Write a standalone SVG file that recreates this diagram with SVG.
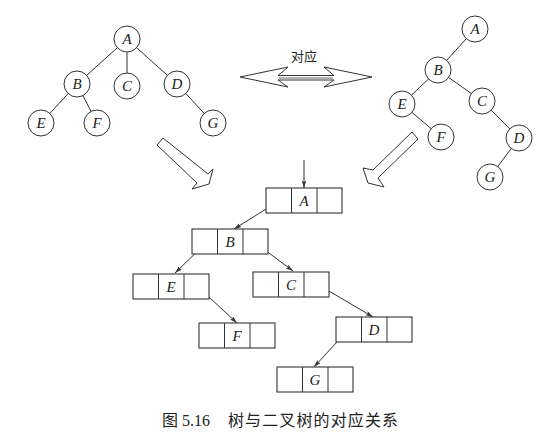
<svg xmlns="http://www.w3.org/2000/svg" width="555" height="438" viewBox="0 0 555 438">
<defs>
<style>
.edge{stroke:#333;stroke-width:1;fill:none}
.node circle{fill:#fff;stroke:#333;stroke-width:1}
.lbl{font-family:"Liberation Serif","Times New Roman",serif;font-style:italic;font-size:15px;fill:#222;text-anchor:middle}
.box rect{fill:#fff;stroke:#333;stroke-width:1.1}
.box line{stroke:#333;stroke-width:1}
.ptr{stroke:#333;stroke-width:1;fill:none;marker-end:url(#ah)}
.hollow{fill:#fff;stroke:#333;stroke-width:1}
.cap{font-family:"Liberation Serif","Noto Sans CJK SC",serif;font-size:16px;fill:#222}
</style>
<marker id="ah" viewBox="0 0 10 6" refX="10" refY="3" markerWidth="8" markerHeight="4.5" markerUnits="userSpaceOnUse" orient="auto">
<path d="M0,0 L10,3 L0,6 L2,3 z" fill="#333"/>
</marker>
</defs>
<rect width="555" height="438" fill="#fff"/>

<!-- connectors -->
<g id="connectors">
<!-- left tree -->
<line class="edge" x1="127" y1="39" x2="77" y2="84"/>
<line class="edge" x1="127" y1="39" x2="127" y2="86"/>
<line class="edge" x1="127" y1="39" x2="177" y2="84"/>
<line class="edge" x1="77" y1="84" x2="41" y2="123"/>
<line class="edge" x1="77" y1="84" x2="97" y2="123"/>
<line class="edge" x1="177" y1="84" x2="213" y2="123"/>
<!-- right tree -->
<line class="edge" x1="475" y1="29" x2="438" y2="70"/>
<line class="edge" x1="438" y1="70" x2="402" y2="104"/>
<line class="edge" x1="438" y1="70" x2="482" y2="101"/>
<line class="edge" x1="402" y1="104" x2="441" y2="137"/>
<line class="edge" x1="482" y1="101" x2="519" y2="138" stroke-width="1.4"/>
<line class="edge" x1="519" y1="138" x2="490" y2="177"/>
<!-- box pointers -->
<line class="ptr" x1="304" y1="160" x2="304" y2="188"/>
<line class="ptr" x1="279" y1="201" x2="234" y2="229"/>
<line class="ptr" x1="206" y1="243" x2="175" y2="273"/>
<line class="ptr" x1="257" y1="244" x2="293" y2="271"/>
<line class="ptr" x1="196" y1="285" x2="237" y2="323"/>
<line class="ptr" x1="317" y1="284" x2="373" y2="317"/>
<line class="ptr" x1="348" y1="330" x2="314" y2="367"/>
<!-- hollow arrows -->
<polygon class="hollow" points="163,138 208,174 213,169 209,184 192,189 197,183 157,145"/>
<polygon class="hollow" points="412,132 373,170 363,168 368,183 384,187 378,178 418,139"/>
<polygon class="hollow" points="240,77 288,67 278,75.5 334,75.5 324,67 372,77 324,87 334,80 278,80 288,87"/>
<line x1="279" y1="78" x2="333" y2="78" stroke="#999" stroke-width="1.5"/>
</g>
<text x="304" y="61" font-family="'Noto Sans CJK SC',sans-serif" font-size="13" text-anchor="middle" fill="#222">对应</text>

<!-- left tree nodes -->
<g id="tA" class="node"><circle cx="127" cy="39" r="13"/><text class="lbl" x="127" y="44">A</text></g>
<g id="tB" class="node"><circle cx="77" cy="84" r="13"/><text class="lbl" x="77" y="89">B</text></g>
<g id="tC" class="node"><circle cx="127" cy="86" r="13"/><text class="lbl" x="127" y="91">C</text></g>
<g id="tD" class="node"><circle cx="177" cy="84" r="13"/><text class="lbl" x="177" y="89">D</text></g>
<g id="tE" class="node"><circle cx="41" cy="123" r="13"/><text class="lbl" x="41" y="128">E</text></g>
<g id="tF" class="node"><circle cx="97" cy="123" r="13"/><text class="lbl" x="97" y="128">F</text></g>
<g id="tG" class="node"><circle cx="213" cy="123" r="13"/><text class="lbl" x="213" y="128">G</text></g>

<!-- right binary tree nodes -->
<g id="bA" class="node"><circle cx="475" cy="29" r="13"/><text class="lbl" x="475" y="34">A</text></g>
<g id="bB" class="node"><circle cx="438" cy="70" r="13"/><text class="lbl" x="438" y="75">B</text></g>
<g id="bE" class="node"><circle cx="402" cy="104" r="13"/><text class="lbl" x="402" y="109">E</text></g>
<g id="bC" class="node"><circle cx="482" cy="101" r="13"/><text class="lbl" x="482" y="106">C</text></g>
<g id="bF" class="node"><circle cx="441" cy="137" r="13"/><text class="lbl" x="441" y="142">F</text></g>
<g id="bD" class="node"><circle cx="519" cy="138" r="13"/><text class="lbl" x="519" y="143">D</text></g>
<g id="bG" class="node"><circle cx="490" cy="177" r="13"/><text class="lbl" x="490" y="182">G</text></g>

<!-- linked storage boxes -->
<g id="sA" class="box" transform="translate(266,188)"><rect width="76" height="25"/><line x1="25.5" y1="0" x2="25.5" y2="25"/><line x1="51" y1="0" x2="51" y2="25"/><text class="lbl" x="38" y="18">A</text></g>
<g id="sB" class="box" transform="translate(192,229)"><rect width="76" height="25"/><line x1="25.5" y1="0" x2="25.5" y2="25"/><line x1="51" y1="0" x2="51" y2="25"/><text class="lbl" x="38" y="18">B</text></g>
<g id="sE" class="box" transform="translate(133,274)"><rect width="76" height="25"/><line x1="25.5" y1="0" x2="25.5" y2="25"/><line x1="51" y1="0" x2="51" y2="25"/><text class="lbl" x="38" y="18">E</text></g>
<g id="sC" class="box" transform="translate(253,272)"><rect width="76" height="25"/><line x1="25.5" y1="0" x2="25.5" y2="25"/><line x1="51" y1="0" x2="51" y2="25"/><text class="lbl" x="38" y="18">C</text></g>
<g id="sF" class="box" transform="translate(199,323)"><rect width="76" height="25"/><line x1="25.5" y1="0" x2="25.5" y2="25"/><line x1="51" y1="0" x2="51" y2="25"/><text class="lbl" x="38" y="18">F</text></g>
<g id="sD" class="box" transform="translate(336,317)"><rect width="76" height="25"/><line x1="25.5" y1="0" x2="25.5" y2="25"/><line x1="51" y1="0" x2="51" y2="25"/><text class="lbl" x="38" y="18">D</text></g>
<g id="sG" class="box" transform="translate(277,367)"><rect width="76" height="25"/><line x1="25.5" y1="0" x2="25.5" y2="25"/><line x1="51" y1="0" x2="51" y2="25"/><text class="lbl" x="38" y="18">G</text></g>

<text class="cap" x="162" y="426">图 5.16</text>
<text class="cap" x="228" y="426" textLength="170" lengthAdjust="spacing">树与二叉树的对应关系</text>
</svg>
